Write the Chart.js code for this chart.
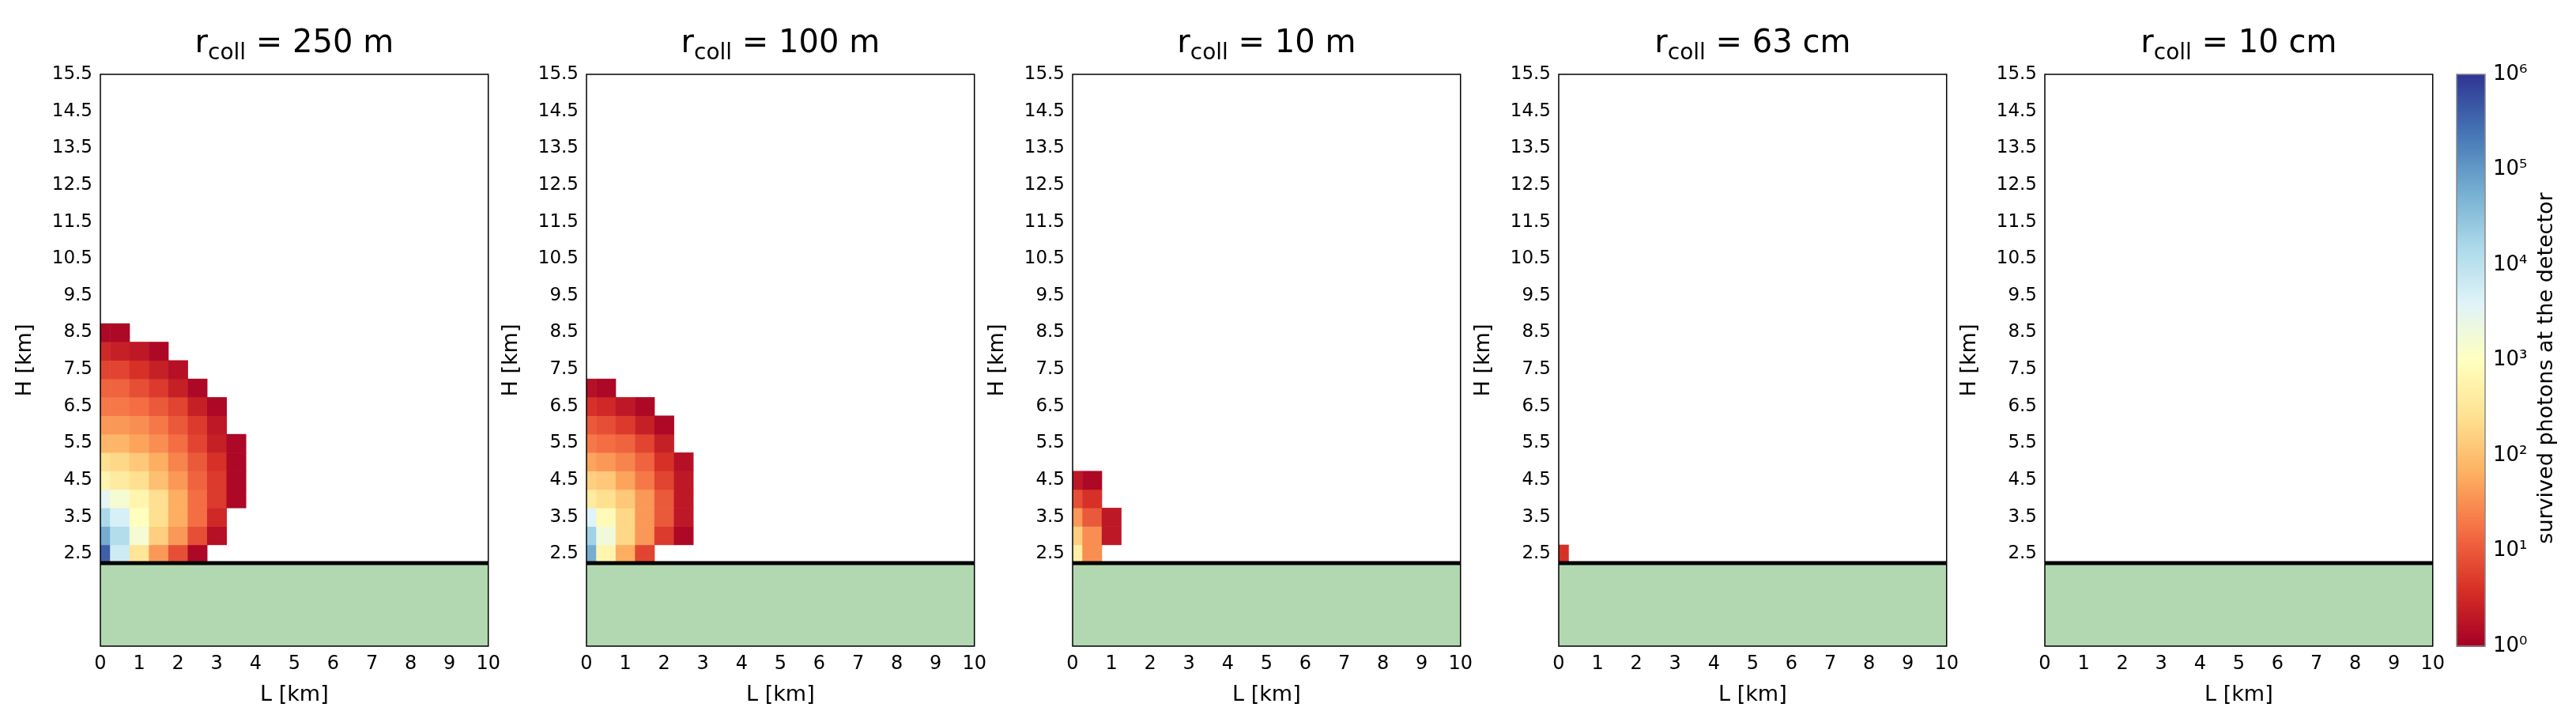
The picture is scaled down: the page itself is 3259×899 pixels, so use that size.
<!DOCTYPE html>
<html><head><meta charset="utf-8">
<script src="https://cdn.jsdelivr.net/npm/chart.js@4"></script>
<style>body{margin:0;background:#fff;width:3259px;height:899px;position:relative;overflow:hidden}canvas{position:absolute;top:0}</style>
</head><body>
<script>
// ---- data (log10 of survived photons), rows from H=2.5 upward, columns at L=0,0.5,1,...
const titles = [["250 m"],["100 m"],["10 m"],["63 cm"],["10 cm"]];
const rowH = [2.5,3.0,3.5,4.0,4.5,5.0,5.5,6.0,6.5,7.0,7.5,8.0,8.5];
const colL = [0,0.5,1.0,1.5,2.0,2.5,3.0,3.5];
const panel1 = [
 [5.6,3.8,2.5,1.6,0.9,0.1],
 [4.8,4.1,3.2,2.2,1.6,0.9,0.2],
 [4.2,3.7,3.0,2.4,1.8,1.2,0.5],
 [3.5,3.2,2.8,2.4,1.8,1.2,0.7,0.1],
 [2.8,2.6,2.4,2.0,1.6,1.1,0.7,0.1],
 [2.4,2.3,2.1,1.8,1.4,1.0,0.6,0.1],
 [1.9,1.9,1.7,1.5,1.2,0.8,0.4,0.1],
 [1.6,1.6,1.5,1.3,1.0,0.7,0.3],
 [1.3,1.3,1.2,1.0,0.8,0.4,0.1],
 [1.1,1.1,0.9,0.7,0.4,0.1],
 [0.8,0.8,0.6,0.4,0.2],
 [0.5,0.4,0.3,0.1],
 [0.1,0.1]
];
const panel2 = [
 [4.8,2.8,1.8,0.8],
 [4.3,3.3,2.3,1.6,0.7,0.1],
 [3.6,2.9,2.3,1.6,1.0,0.3],
 [2.6,2.4,2.1,1.6,1.0,0.3],
 [2.2,2.1,1.7,1.3,0.8,0.3],
 [1.7,1.6,1.4,1.1,0.6,0.2],
 [1.3,1.2,1.1,0.8,0.4],
 [1.0,0.9,0.7,0.4,0.1],
 [0.6,0.5,0.3,0.1],
 [0.2,0.1]
];
const panel3 = [
 [2.7,1.5],
 [2.2,1.5,0.3],
 [1.6,1.0,0.3],
 [0.9,0.6],
 [0.3,0.1]
];
const panel4 = [[0.6]];
const panel5 = [];
const panels = [panel1,panel2,panel3,panel4,panel5];
const xTicks = [0,1,2,3,4,5,6,7,8,9,10];
const yTicks = [2.5,3.5,4.5,5.5,6.5,7.5,8.5,9.5,10.5,11.5,12.5,13.5,14.5,15.5];
const groundH = 2.25;
const cbTicks = [1,10,100,1000,10000,100000,1000000];

// ---- colormap RdYlBu
const stops = ['#a50026','#d73027','#f46d43','#fdae61','#fee090','#ffffbf','#e0f3f8','#abd9e9','#74add1','#4575b4','#313695'];
function hex(c){return [parseInt(c.slice(1,3),16),parseInt(c.slice(3,5),16),parseInt(c.slice(5,7),16)];}
function cmap(v){
  let t=Math.max(0,Math.min(1,v/6))*(stops.length-1);
  let i=Math.min(stops.length-2,Math.floor(t)), f=t-i;
  let a=hex(stops[i]), b=hex(stops[i+1]);
  return 'rgb('+a.map((x,k)=>Math.round(x+(b[k]-x)*f)).join(',')+')';
}
const FONT='DejaVu Sans';
const plotLefts=[127,742,1357,1972,2587];
const PW=496, TOP=94, BOT=817, YW=115;

plotLefts.forEach((pl,idx)=>{
  const cv=document.createElement('canvas');
  const W=YW+PW+12;
  cv.style.left=(pl-YW)+'px';cv.style.width=W+'px';cv.style.height='899px';
  document.body.appendChild(cv);
  const data=panels[idx];
  const cells={id:'cells',beforeDatasetsDraw(ch){
    const c=ch.ctx,x=ch.scales.x,y=ch.scales.y,a=ch.chartArea;
    c.save();c.beginPath();c.rect(a.left,a.top,a.right-a.left,a.bottom-a.top);c.clip();
    data.forEach((row,r)=>row.forEach((v,k)=>{
      const x0=x.getPixelForValue(colL[k]-0.25),x1=x.getPixelForValue(colL[k]+0.25);
      const y0=y.getPixelForValue(rowH[r]+0.25),y1=y.getPixelForValue(rowH[r]-0.25);
      c.fillStyle=cmap(v);c.fillRect(x0,y0,x1-x0+0.5,y1-y0+0.5);
    }));
    const g=y.getPixelForValue(groundH);
    c.fillStyle='#b2d8b2';c.fillRect(a.left,g,a.right-a.left,a.bottom-g);
    c.strokeStyle='#000';c.lineWidth=5;c.beginPath();c.moveTo(a.left,g);c.lineTo(a.right,g);c.stroke();
    c.restore();
  },afterDraw(ch){
    const c=ch.ctx,a=ch.chartArea;
    c.save();c.strokeStyle='#000';c.lineWidth=1.5;c.strokeRect(a.left,a.top,a.right-a.left,a.bottom-a.top);
    const s1='r',s2='coll',s3=' = '+titles[idx][0];
    c.fillStyle='#000';c.textBaseline='alphabetic';
    c.font='40px '+FONT;const w1=c.measureText(s1).width,w3=c.measureText(s3).width;
    c.font='28px '+FONT;const w2=c.measureText(s2).width;
    let cx=(a.left+a.right)/2-(w1+w2+w3)/2, by=66;
    c.font='40px '+FONT;c.fillText(s1,cx,by);cx+=w1;
    c.font='28px '+FONT;c.fillText(s2,cx,by+9);cx+=w2;
    c.font='40px '+FONT;c.fillText(s3,cx,by);
    c.restore();
  }};
  new Chart(cv,{type:'scatter',data:{datasets:[{data:[]}]},plugins:[cells],
    options:{responsive:false,animation:false,devicePixelRatio:1,
      layout:{padding:{top:TOP,right:12,left:0,bottom:0}},
      plugins:{legend:{display:false},tooltip:{enabled:false}},
      scales:{
        x:{type:'linear',min:0,max:10,grid:{display:false,tickLength:6},border:{display:false},
          afterBuildTicks(s){s.ticks=xTicks.map(v=>({value:v}));},
          afterFit(s){s.height=899-BOT;},
          ticks:{color:'#000',font:{family:FONT,size:24},maxRotation:0,padding:2},
          title:{display:true,text:'L [km]',color:'#000',font:{family:FONT,size:27},padding:{top:0}}},
        y:{type:'linear',min:0,max:15.5,grid:{display:false,tickLength:6},border:{display:false},
          afterBuildTicks(s){s.ticks=yTicks.map(v=>({value:v}));},
          afterFit(s){s.width=YW;},
          ticks:{color:'#000',font:{family:FONT,size:23},padding:4,callback:v=>v.toFixed(1)},
          title:{display:true,text:'H [km]',color:'#000',font:{family:FONT,size:27},padding:{bottom:0}}}
      }}});
});

// ---- colorbar
(function(){
  const cv=document.createElement('canvas');
  cv.style.left='3000px';cv.style.width='259px';cv.style.height='899px';
  document.body.appendChild(cv);
  const sup={'0':'⁰','1':'¹','2':'²','3':'³','4':'⁴','5':'⁵','6':'⁶'};
  const grad={id:'grad',beforeDatasetsDraw(ch){
    const c=ch.ctx,y=ch.scales.y,a=ch.chartArea;
    for(let i=0;i<600;i++){
      const v0=i/100,v1=(i+1)/100;
      const p0=y.getPixelForValue(Math.pow(10,v0)),p1=y.getPixelForValue(Math.pow(10,v1));
      c.fillStyle=cmap((v0+v1)/2);c.fillRect(a.left,p1,a.right-a.left,p0-p1+1);
    }
  },afterDraw(ch){
    const c=ch.ctx,a=ch.chartArea;
    c.save();c.strokeStyle='#888';c.lineWidth=1.5;c.strokeRect(a.left,a.top,a.right-a.left,a.bottom-a.top);
    c.translate(a.right+78,(a.top+a.bottom)/2+10);c.rotate(-Math.PI/2);
    c.fillStyle='#000';c.font='27px '+FONT;c.textAlign='center';c.textBaseline='middle';
    c.fillText('survived photons at the detector',0,0);c.restore();
  }};
  new Chart(cv,{type:'scatter',data:{datasets:[{data:[]}]},plugins:[grad],
    options:{responsive:false,animation:false,devicePixelRatio:1,
      layout:{padding:{top:TOP,left:108,right:0,bottom:899-BOT}},
      plugins:{legend:{display:false},tooltip:{enabled:false}},
      scales:{
        x:{display:false,min:0,max:1},
        y:{type:'logarithmic',position:'right',min:1,max:1e6,grid:{display:false,tickLength:6},border:{display:false},
          afterBuildTicks(s){s.ticks=cbTicks.map(v=>({value:v}));},
          afterFit(s){s.width=115;},
          ticks:{color:'#000',font:{family:FONT,size:26},padding:4,
            callback:v=>'10'+sup[String(Math.round(Math.log10(v)))]}}
      }}});
})();
</script>
</body></html>
